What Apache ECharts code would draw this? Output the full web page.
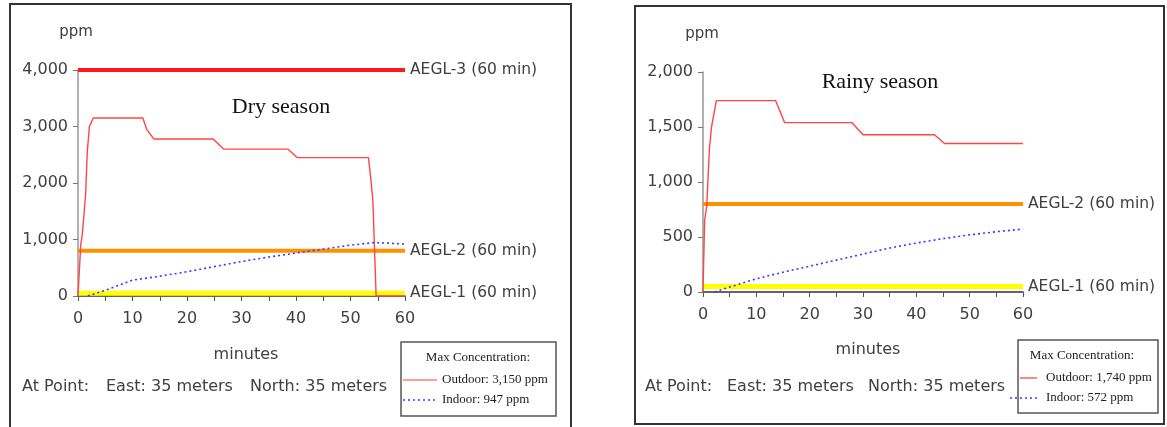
<!DOCTYPE html>
<html>
<head>
<meta charset="utf-8">
<script src="https://cdn.jsdelivr.net/npm/echarts@6/dist/echarts.min.js"></script>
<style>
html,body{margin:0;padding:0;background:#fff;}
#c{width:1167px;height:427px;}
</style>
</head>
<body>
<div id="c"></div>
<script>
// ---- Data ----
const xTicks = [0, 10, 20, 30, 40, 50, 60];
const dryYTicks = [0, 1000, 2000, 3000, 4000];
const rainyYTicks = [0, 500, 1000, 1500, 2000];

const dryOutdoorT = [0, 0.5, 0.8, 1.4, 1.7, 2.1, 2.8, 11.9, 12.6, 13.9, 24.8, 26.7, 38.5, 40.2, 53.3, 53.7, 54.1, 54.7, 60];
const dryOutdoorV = [0, 900, 1100, 1800, 2550, 3000, 3150, 3150, 2950, 2780, 2780, 2600, 2600, 2450, 2450, 2100, 1700, 0, 0];
const dryIndoorT = [1.8, 5, 10, 15, 20, 25, 30, 35, 40, 45, 50, 54.5, 57, 60];
const dryIndoorV = [0, 100, 280, 350, 430, 520, 610, 690, 760, 830, 900, 947, 935, 920];

const rainyOutdoorT = [0, 0.3, 0.7, 1.2, 1.6, 2.5, 13.6, 15.3, 27.9, 30, 43.4, 45.3, 60];
const rainyOutdoorV = [0, 650, 780, 1300, 1500, 1740, 1740, 1540, 1540, 1430, 1430, 1350, 1350];
const rainyIndoorT = [2.2, 5, 10, 15, 20, 25, 30, 35, 40, 45, 50, 55, 60];
const rainyIndoorV = [0, 45, 120, 180, 235, 290, 345, 400, 445, 485, 520, 548, 572];

const aeglNames = ['AEGL-3 (60 min)', 'AEGL-2 (60 min)', 'AEGL-1 (60 min)'];
const aeglValues = [4000, 800, 50];
const aeglSpan = [0, 60];

const dryLegend = ['Max Concentration:', 'Outdoor: 3,150 ppm', 'Indoor: 947 ppm'];
const rainyLegend = ['Max Concentration:', 'Outdoor: 1,740 ppm', 'Indoor: 572 ppm'];

// ---- Build ----
const zip = (t, v) => t.map((x, i) => [x, v[i]]);
const labelColor = '#404040';
const sans = 'DejaVu Sans';
const serif = 'Liberation Serif';

function xAxis(gi) {
  return {
    type: 'value', gridIndex: gi, min: 0, max: 60, interval: 5,
    axisLine: {show: true, lineStyle: {color: '#333', width: 1.5}},
    axisTick: {show: true, length: 5, lineStyle: {color: '#555'}},
    splitLine: {show: false},
    axisLabel: {
      margin: 15, fontFamily: sans, fontSize: 16, color: labelColor,
      formatter: v => xTicks.indexOf(v) >= 0 ? String(v) : ''
    }
  };
}
function yAxis(gi, ticks) {
  return {
    type: 'value', gridIndex: gi, min: ticks[0], max: ticks[ticks.length - 1],
    interval: ticks[1] - ticks[0],
    axisLine: {show: true, lineStyle: {color: '#999', width: 1.5}},
    axisTick: {show: true, length: 5, lineStyle: {color: '#777'}},
    splitLine: {show: false},
    axisLabel: {
      margin: 10, fontFamily: sans, fontSize: 16, color: labelColor,
      formatter: v => v.toLocaleString('en-US')
    }
  };
}
function aegl(gi, idx, color, width) {
  return {
    type: 'line', xAxisIndex: gi, yAxisIndex: gi, name: aeglNames[idx],
    data: aeglSpan.map(x => [x, aeglValues[idx]]),
    symbol: 'none', silent: true, z: 2,
    lineStyle: {color: color, width: width},
    endLabel: {show: true, formatter: aeglNames[idx], distance: 5,
      fontFamily: sans, fontSize: 15.5, color: labelColor}
  };
}
function outdoor(gi, t, v) {
  return {type: 'line', xAxisIndex: gi, yAxisIndex: gi, data: zip(t, v), symbol: 'none', z: 3,
    lineStyle: {color: '#ff4545', width: 1.4}};
}
function indoor(gi, t, v) {
  return {type: 'line', xAxisIndex: gi, yAxisIndex: gi, data: zip(t, v), symbol: 'none', z: 4,
    lineStyle: {color: '#3a3aff', width: 1.6, type: [2, 3]}};
}

function legendBox(x, y, w, h, texts, redX1, redX2, blueX1, blueX2, textX, centerX) {
  return [
    {type: 'rect', shape: {x: x, y: y, width: w, height: h}, style: {fill: '#fff', stroke: '#555', lineWidth: 1.5}, z: 10},
    {type: 'text', x: centerX, y: y + 16, z: 11, style: {text: texts[0], font: '13px "' + serif + '"', fill: '#222', align: 'center', verticalAlign: 'middle'}},
    {type: 'line', shape: {x1: redX1, y1: y + 38, x2: redX2, y2: y + 38}, style: {stroke: '#ff3b3b', lineWidth: 1.2}, z: 11},
    {type: 'text', x: textX, y: y + 38, z: 11, style: {text: texts[1], font: '13px "' + serif + '"', fill: '#222', align: 'left', verticalAlign: 'middle'}},
    {type: 'line', shape: {x1: blueX1, y1: y + 58, x2: blueX2, y2: y + 58}, style: {stroke: '#3a3aff', lineWidth: 1.4, lineDash: [2, 3]}, z: 11},
    {type: 'text', x: textX, y: y + 58, z: 11, style: {text: texts[2], font: '13px "' + serif + '"', fill: '#222', align: 'left', verticalAlign: 'middle'}}
  ];
}
function txt(x, y, s, size, family, align, color) {
  return {type: 'text', x: x, y: y, z: 5, style: {text: s, font: size + 'px "' + family + '"', fill: color || labelColor, align: align || 'left', verticalAlign: 'middle'}};
}

const graphics = [
  {type: 'rect', shape: {x: 10, y: 4, width: 561, height: 440}, style: {fill: 'none', stroke: '#333', lineWidth: 2}, z: 0},
  {type: 'rect', shape: {x: 635, y: 6, width: 529, height: 418}, style: {fill: 'none', stroke: '#333', lineWidth: 2}, z: 0},
  txt(76, 32, 'ppm', 15, sans, 'center'),
  txt(702, 34, 'ppm', 15, sans, 'center'),
  txt(281, 107, 'Dry season', 22, serif, 'center', '#111'),
  txt(880, 82, 'Rainy season', 22, serif, 'center', '#111'),
  txt(246, 355, 'minutes', 16, sans, 'center'),
  txt(868, 350, 'minutes', 16, sans, 'center'),
  txt(22, 387, 'At Point:', 16, sans),
  txt(106, 387, 'East: 35 meters', 16, sans),
  txt(250, 387, 'North: 35 meters', 16, sans),
  txt(645, 387, 'At Point:', 16, sans),
  txt(727, 387, 'East: 35 meters', 16, sans),
  txt(868, 387, 'North: 35 meters', 16, sans)
].concat(
  legendBox(401, 342, 155, 74, dryLegend, 403, 437, 403, 437, 442, 478),
  legendBox(1018, 340, 140, 73, rainyLegend, 1020, 1037, 1010, 1037, 1046, 1082)
);

const option = {
  animation: false,
  backgroundColor: '#fff',
  grid: [
    {left: 78, top: 70, width: 327, height: 226},
    {left: 703, top: 72, width: 320, height: 220}
  ],
  xAxis: [xAxis(0), xAxis(1)],
  yAxis: [yAxis(0, dryYTicks), yAxis(1, rainyYTicks)],
  series: [
    aegl(0, 0, '#ff1a1a', 4),
    aegl(0, 1, '#ff9000', 4),
    aegl(0, 2, '#ffff00', 5),
    outdoor(0, dryOutdoorT, dryOutdoorV),
    indoor(0, dryIndoorT, dryIndoorV),
    aegl(1, 1, '#ff9000', 4),
    aegl(1, 2, '#ffff00', 5),
    outdoor(1, rainyOutdoorT, rainyOutdoorV),
    indoor(1, rainyIndoorT, rainyIndoorV)
  ],
  graphic: graphics
};
const chart = echarts.init(document.getElementById('c'), null, {renderer: 'canvas'});
chart.setOption(option);
</script>
</body>
</html>
